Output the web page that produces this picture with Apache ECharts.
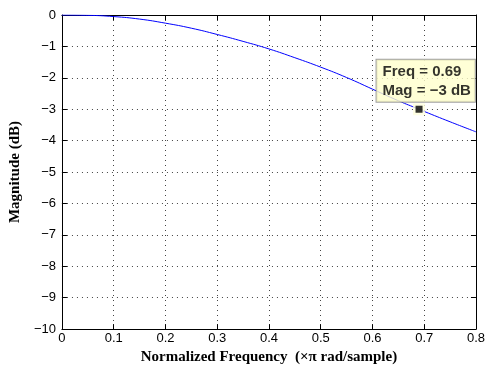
<!DOCTYPE html>
<html><head><meta charset="utf-8">
<script src="https://cdn.jsdelivr.net/npm/echarts@6/dist/echarts.min.js"></script>
<style>html,body{margin:0;padding:0;background:#fff}#c{width:488px;height:370px}</style>
</head><body><div id="c"></div>
<script>
const freq = [0, 0.05, 0.1, 0.15, 0.2, 0.25, 0.3, 0.35, 0.4, 0.45, 0.5, 0.55, 0.6, 0.65, 0.69, 0.7, 0.75, 0.8];
const mag  = [0, -0.01, -0.05, -0.13, -0.26, -0.42, -0.62, -0.84, -1.08, -1.36, -1.66, -1.99, -2.36, -2.73, -3.0, -3.07, -3.40, -3.72];
const marker = [0.69, -3];
const markerText = ['Freq = 0.69', 'Mag = \u22123 dB'];
const xTicks = ['0','0.1','0.2','0.3','0.4','0.5','0.6','0.7','0.8'];

const chart = echarts.init(document.getElementById('c'));
const sans = 'Liberation Sans, Arial, sans-serif';
const serif = 'Liberation Serif, Times New Roman, serif';
const fmtY = v => (v < 0 ? '\u2212' + Math.abs(v) : String(v));
const axisBase = {
  axisLine: {show: true, onZero: false, lineStyle: {color: '#000', width: 1}},
  axisTick: {show: true, inside: true, length: 5, lineStyle: {color: '#000'}},
};
chart.setOption({
  animation: false,
  grid: {left: 54, right: 8, top: 15, bottom: 36, containLabel: false},
  xAxis: [
    Object.assign({}, axisBase, {
      type: 'value', min: 0, max: 0.8, interval: 0.1, position: 'bottom',
      axisLabel: {color: '#000', fontFamily: sans, fontSize: 13, margin: 3,
        formatter: v => xTicks[Math.round(v * 10)]},
      splitLine: {show: true, lineStyle: {color: '#444', type: [1, 4], width: 1}},
      name: 'Normalized Frequency  (\u00d7\u03c0 rad/sample)', nameLocation: 'middle', nameGap: 19,
      nameTextStyle: {color: '#000', fontFamily: serif, fontWeight: 'bold', fontSize: 15}
    }),
    Object.assign({}, axisBase, {
      type: 'value', min: 0, max: 0.8, interval: 0.1, position: 'top',
      axisLabel: {show: false}, splitLine: {show: false}
    })
  ],
  yAxis: [
    Object.assign({}, axisBase, {
      type: 'value', min: -10, max: 0, interval: 1, position: 'left',
      axisLabel: {color: '#000', fontFamily: sans, fontSize: 13, margin: 6, formatter: fmtY},
      splitLine: {show: true, lineStyle: {color: '#444', type: [1, 4], width: 1}},
      name: 'Magnitude (dB)', nameLocation: 'middle', nameGap: 38,
      nameTextStyle: {color: '#000', fontFamily: serif, fontWeight: 'bold', fontSize: 15}
    }),
    Object.assign({}, axisBase, {
      type: 'value', min: -10, max: 0, interval: 1, position: 'right',
      axisLabel: {show: false}, splitLine: {show: false}
    })
  ],
  series: [
    {
      type: 'line', data: freq.map((f, i) => [f, mag[i]]), smooth: true,
      showSymbol: false, lineStyle: {color: '#0000ff', width: 1}, z: 2
    },
    {
      type: 'scatter', data: [marker], symbol: 'rect', symbolSize: 12,
      itemStyle: {color: '#ffffdd'}, z: 3, silent: true
    },
    {
      type: 'scatter', data: [marker], symbol: 'rect', symbolSize: 7,
      itemStyle: {color: '#000'}, z: 4,
      label: {
        show: true, position: [-39, -46], align: 'left', verticalAlign: 'top',
        formatter: markerText.join('\n'),
        fontFamily: sans, fontWeight: 'bold', fontSize: 15, color: '#000', lineHeight: 19,
        backgroundColor: '#ffffcc', borderColor: '#888', borderWidth: 1,
        padding: [3, 4, 1, 6]
      }
    }
  ]
});
</script></body></html>
